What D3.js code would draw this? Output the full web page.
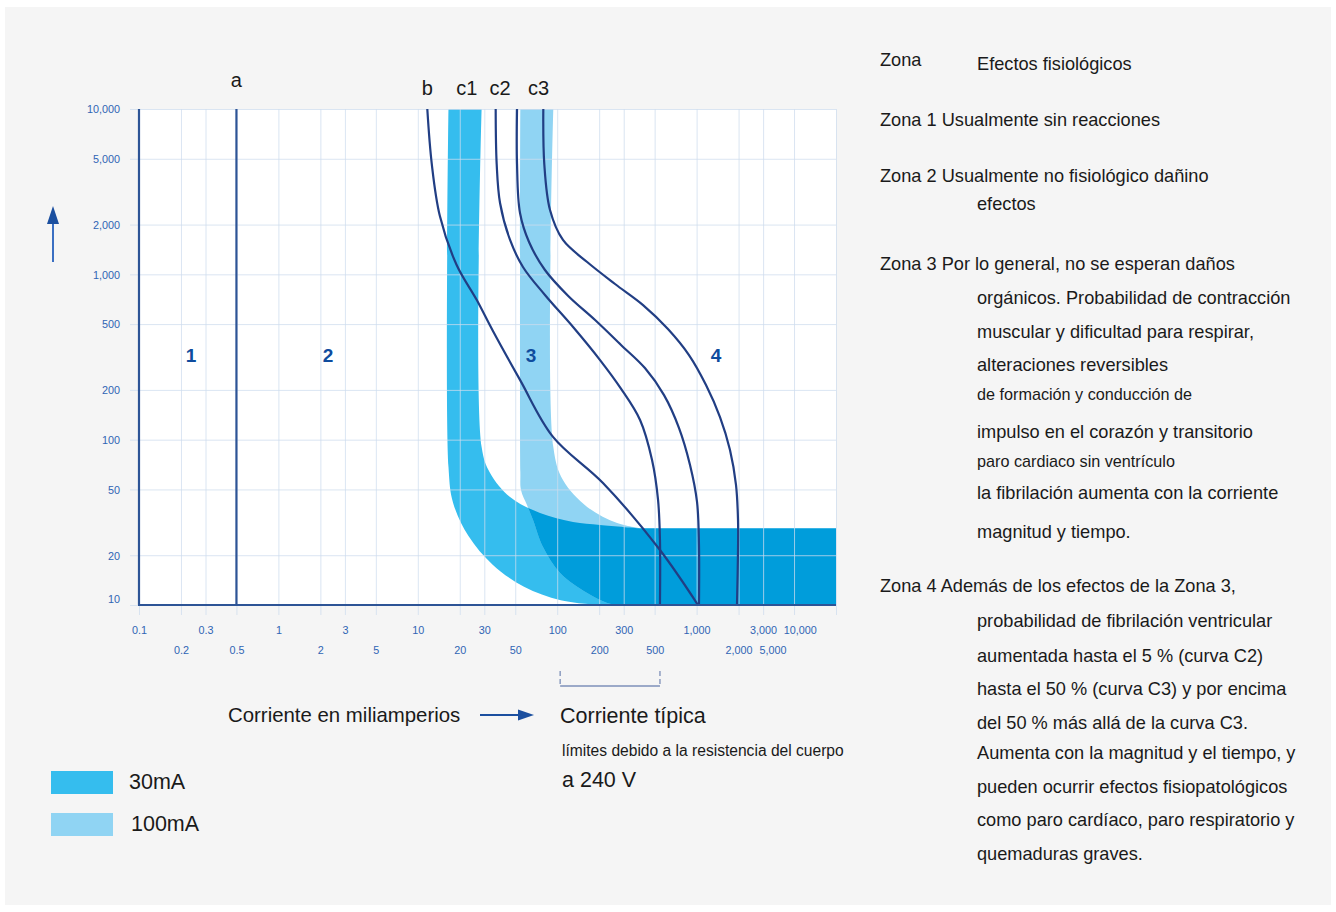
<!DOCTYPE html>
<html lang="es">
<head>
<meta charset="utf-8">
<script src="https://cdn.jsdelivr.net/npm/d3@7"></script>
<style>
  html, body { margin: 0; padding: 0; background: #fff; }
  svg { display: block; font-family: "Liberation Sans", Arial, sans-serif; }
</style>
</head>
<body>
<svg id="chart" width="1336" height="912"></svg>
<script>
/* global d3 */

// axes (current in mA, time in ms)
const X_TICKS = [0.1, 0.2, 0.3, 0.5, 1, 2, 3, 5, 10, 20, 30, 50, 100, 200, 300, 500, 1000, 2000, 3000, 5000, 10000];
const X_LABELS_ROW1 = [0.1, 0.3, 1, 3, 10, 30, 100, 300, 1000, 3000, 10000];
const X_LABELS_ROW2 = [0.2, 0.5, 2, 5, 20, 50, 200, 500, 2000, 5000];
const Y_TICKS = [10, 20, 50, 100, 200, 500, 1000, 2000, 5000, 10000];
// the last two labels are printed left of their gridlines in the original
const LABEL_AT = new Map([[5000, 3500], [10000, 5500]]);

// curves [mA, ms]
const CURVE_A = [[0.5, 10000], [0.5, 10]];
const CURVE_B = [[11.7, 10000], [12.6, 4645], [14.4, 2254], [19.0, 1139], [26.5, 699], [34.6, 454],
  [54.1, 230], [93.3, 104], [213, 54.7], [546, 21.5], [1023, 10]];
const CURVE_C1 = [[36.2, 10000], [36.8, 4645], [38.9, 2701], [45.9, 1614], [56.8, 1108], [81.7, 750],
  [130, 480], [203, 303], [285, 205], [393, 131.5], [479, 75.3], [529, 43.2], [546, 24.7], [546, 10]];
const CURVE_C2 = [[51.5, 10000], [51.5, 4645], [54.1, 2350], [62.8, 1569], [81.7, 1062], [120, 740],
  [187, 529], [287, 374], [426, 271], [584, 186], [747, 118], [897, 70.3], [1007, 42.0], [1040, 23.1], [1040, 10]];
const CURVE_C3 = [[79.5, 10000], [80.8, 4645], [88.8, 2449], [110, 1614], [164, 1187], [260, 874],
  [413, 652], [623, 467], [882, 325], [1168, 214], [1472, 137], [1736, 86.6], [1917, 53.2], [1982, 32.7],
  [1982, 21.5], [1949, 10]];
const CURVE_NAMES = ['a', 'b', 'c1', 'c2', 'c3'];
const CURVE_NAME_AT = [0.5, 11.7, 22.5, 38.9, 73.4];

// RCD bands: outer edge top->axis, inner edge top->horizontal part
const BAND_TOP_T = 29.1;
const BAND30_OUTER = [[16.6, 10000], [16.6, 68.3], [17.9, 41.6], [23.1, 26.1], [34.3, 17.6], [57.8, 12.9],
  [106, 10.7], [203, 10]];
const BAND30_INNER = [[28.7, 10000], [28.7, 90.3], [33.0, 62.9], [45.9, 45.0], [75.3, 36.0], [130, 31.8],
  [203, 30.5], [393, 29.1]];
const BAND100_OUTER = [[54.4, 10000], [54.4, 63.7], [55.0, 49.6], [60.7, 40.2], [67.1, 32.7], [79.1, 22.4],
  [105, 15.6], [164, 11.8], [228, 10.3], [282, 10]];
const BAND100_INNER = [[93.8, 10000], [93.8, 90.3], [110, 57.0], [164, 39.2], [269, 31.3], [393, 29.1]];

// typical current limits (mA)
const TYPICAL = [105, 546];

const ZONES = ['1', '2', '3', '4'];
const ZONE_AT = [0.236, 2.27, 64.9, 1377];
const ZONE_T = 325;

const LEGEND = ['30mA', '100mA'];

const NOTES = [
  'Zona 1 Usualmente sin reacciones',
  'Zona 2 Usualmente no fisiológico dañino',
  'efectos',
  'Zona 3 Por lo general, no se esperan daños',
  'orgánicos. Probabilidad de contracción',
  'muscular y dificultad para respirar,',
  'alteraciones reversibles',
  'de formación y conducción de',
  'impulso en el corazón y transitorio',
  'paro cardiaco sin ventrículo',
  'la fibrilación aumenta con la corriente',
  'magnitud y tiempo.',
  'Zona 4 Además de los efectos de la Zona 3,',
  'probabilidad de fibrilación ventricular',
  'aumentada hasta el 5 % (curva C2)',
  'hasta el 50 % (curva C3) y por encima',
  'del 50 % más allá de la curva C3.',
  'Aumenta con la magnitud y el tiempo, y',
  'pueden ocurrir efectos fisiopatológicos',
  'como paro cardíaco, paro respiratorio y',
  'quemaduras graves.'
];

const COL_30 = '#35bdee';
const COL_100 = '#90d4f3';
const COL_BOTH = '#009ddb';
const COL_CURVE = '#213e84';
const COL_AXIS = '#2d5496';
const COL_TICK = '#2f64b4';
const COL_ZONE = '#0f4c9e';
const COL_GRID = '#cddcee';

const W = 1336, H = 912;
const x = d3.scaleLog().domain([0.1, 10000]).range([139, 836]);
const y = d3.scaleLog().domain([10, 10000]).range([605, 109]);
const fmt = d3.format(',');

const svg = d3.select('#chart');
svg.append('rect').attr('width', W).attr('height', H).attr('fill', '#fff');
svg.append('rect').attr('x', 5).attr('y', 7).attr('width', W - 10).attr('height', H - 14).attr('fill', '#f5f5f5');

const x0 = x(0.1), x1 = x(10000), y0 = y(10), y1 = y(10000);
svg.append('rect').attr('x', x0).attr('y', y1).attr('width', x1 - x0).attr('height', y0 - y1).attr('fill', '#fff');

const edge = d3.line().x(d => x(d[0])).y(d => y(d[1])).curve(d3.curveCatmullRom.alpha(0.5));

function bandPath(outer, inner) {
  const o = edge(outer);
  const i = edge(inner.slice().reverse());
  return o + `L${x1},${y0}L${x1},${y(BAND_TOP_T)}L` + i.slice(1) + 'Z';
}

const p30 = bandPath(BAND30_OUTER, BAND30_INNER);
const p100 = bandPath(BAND100_OUTER, BAND100_INNER);

const defs = svg.append('defs');
defs.append('clipPath').attr('id', 'plot-clip').append('rect')
  .attr('x', x0).attr('y', y1).attr('width', x1 - x0).attr('height', y0 - y1);
defs.append('clipPath').attr('id', 'clip30').append('path').attr('d', p30);

const plot = svg.append('g').attr('clip-path', 'url(#plot-clip)');
plot.append('path').attr('d', p30).attr('fill', COL_30);
plot.append('path').attr('d', p100).attr('fill', COL_100);
plot.append('g').attr('clip-path', 'url(#clip30)')
  .append('path').attr('d', p100).attr('fill', COL_BOTH);

// gridlines
const gx = svg.append('g').attr('transform', `translate(0,${y0 + 10})`)
  .call(d3.axisBottom(x).tickValues(X_TICKS).tickSize(-(y0 - y1 + 10)).tickFormat(''));
gx.select('.domain').remove();
gx.selectAll('line').attr('stroke', COL_GRID).attr('stroke-opacity', 0.75);

const gy = svg.append('g').attr('transform', `translate(${x0 - 9},0)`)
  .call(d3.axisLeft(y).tickValues(Y_TICKS).tickSize(-(x1 - x0 + 9)).tickFormat(''));
gy.select('.domain').remove();
gy.selectAll('line').attr('stroke', COL_GRID).attr('stroke-opacity', 0.75);

// curves
const curveG = svg.append('g').attr('clip-path', 'url(#plot-clip)');
[CURVE_B, CURVE_C1, CURVE_C2, CURVE_C3].forEach(c => {
  curveG.append('path').attr('d', edge(c)).attr('fill', 'none')
    .attr('stroke', COL_CURVE).attr('stroke-width', 2.2);
});
svg.append('path').attr('d', d3.line().x(d => x(d[0])).y(d => y(d[1]))(CURVE_A))
  .attr('stroke', COL_AXIS).attr('stroke-width', 2.2);

// axis lines
svg.append('line').attr('x1', x0).attr('x2', x0).attr('y1', y1).attr('y2', y0)
  .attr('stroke', COL_AXIS).attr('stroke-width', 2.2);
svg.append('line').attr('x1', x0 - 1).attr('x2', x1).attr('y1', y0).attr('y2', y0)
  .attr('stroke', COL_AXIS).attr('stroke-width', 2.2);

// tick labels
function xLabels(vals, ty) {
  const g = svg.append('g').attr('transform', `translate(0,${ty})`)
    .call(d3.axisBottom(x).tickValues(vals).tickSize(0).tickPadding(0).tickFormat(fmt));
  g.select('.domain').remove();
  g.attr('font-family', null).attr('font-size', null);
  g.selectAll('text')
    .attr('y', 0).attr('dy', '0.35em')
    .attr('x', d => LABEL_AT.has(d) ? x(LABEL_AT.get(d)) - x(d) : 0)
    .attr('fill', COL_TICK).attr('font-size', 10.8);
}
xLabels(X_LABELS_ROW1, 630);
xLabels(X_LABELS_ROW2, 650);

const gyl = svg.append('g').attr('transform', 'translate(120,0)')
  .call(d3.axisLeft(y).tickValues(Y_TICKS).tickSize(0).tickPadding(0).tickFormat(fmt));
gyl.select('.domain').remove();
gyl.attr('font-family', null).attr('font-size', null);
gyl.selectAll('text').attr('fill', COL_TICK).attr('font-size', 10.8)
  .attr('dy', d => d === 10 ? '-0.2em' : '0.35em');

// zone numbers
svg.append('g').selectAll('text').data(ZONES).join('text')
  .attr('x', (d, i) => x(ZONE_AT[i])).attr('y', y(ZONE_T)).attr('dy', '0.35em')
  .attr('text-anchor', 'middle').attr('font-size', 19).attr('font-weight', 'bold')
  .attr('fill', COL_ZONE).text(d => d);

// curve names above the plot
svg.append('g').selectAll('text').data(CURVE_NAMES).join('text')
  .attr('x', (d, i) => x(CURVE_NAME_AT[i])).attr('y', d => d === 'a' ? 87 : 95)
  .attr('text-anchor', 'middle').attr('font-size', 20).attr('fill', '#1a1a1a').text(d => d);

// vertical arrow on the left
svg.append('line').attr('x1', 53).attr('x2', 53).attr('y1', 262).attr('y2', 222)
  .attr('stroke', '#3a6fc2').attr('stroke-width', 2);
svg.append('path').attr('d', 'M53,206L59,224L47,224Z').attr('fill', '#1b4f9f');

// bracket for typical current limits
const bx0 = x(TYPICAL[0]), bx1 = x(TYPICAL[1]);
svg.append('line').attr('x1', bx0).attr('x2', bx1).attr('y1', 686).attr('y2', 686)
  .attr('stroke', '#7d8fb8').attr('stroke-width', 1.3);
[bx0, bx1].forEach(bx => {
  svg.append('line').attr('x1', bx).attr('x2', bx).attr('y1', 671).attr('y2', 686)
    .attr('stroke', '#7d8fb8').attr('stroke-width', 1.3).attr('stroke-dasharray', '5,3');
});

// bottom texts
const txt = (tx, ty, s, size, anchor) => svg.append('text').attr('x', tx).attr('y', ty).attr('dy', '0.35em')
  .attr('font-size', size).attr('fill', '#1a1a1a').attr('text-anchor', anchor || 'start').text(s);
txt(228, 715, 'Corriente en miliamperios', 20.4);
svg.append('line').attr('x1', 480).attr('x2', 520).attr('y1', 715).attr('y2', 715)
  .attr('stroke', '#1b4f9f').attr('stroke-width', 2);
svg.append('path').attr('d', 'M534,715L518,709.5L518,720.5Z').attr('fill', '#1b4f9f');
txt(560, 715, 'Corriente típica', 21.5);
txt(562, 751, 'límites debido a la resistencia del cuerpo', 15.6);
txt(562, 779, 'a 240 V', 21.5);

// legend
const legendColors = [COL_30, COL_100];
const lg = svg.append('g');
lg.selectAll('rect').data(LEGEND).join('rect')
  .attr('x', 51).attr('y', (d, i) => 771 + i * 42).attr('width', 62).attr('height', 23)
  .attr('fill', (d, i) => legendColors[i]);
lg.selectAll('text').data(LEGEND).join('text')
  .attr('x', (d, i) => 129 + i * 2).attr('y', (d, i) => 781 + i * 42).attr('dy', '0.35em')
  .attr('font-size', 21.5).attr('fill', '#1a1a1a').text(d => d);

// right panel
txt(880, 60, 'Zona', 18.2);
txt(977, 64, 'Efectos fisiológicos', 18.2);
const NOTE_Y = [120, 176, 204, 264, 298, 332, 365, 394, 432, 461, 493, 532, 586, 621, 656, 689, 723, 753, 787, 820, 854];
const SMALL = new Set([7, 9]);
NOTES.forEach((s, i) => {
  const head = s.startsWith('Zona');
  txt(head ? 880 : 977, NOTE_Y[i], s, SMALL.has(i) ? 16.2 : 18.2);
});
</script>
</body>
</html>
